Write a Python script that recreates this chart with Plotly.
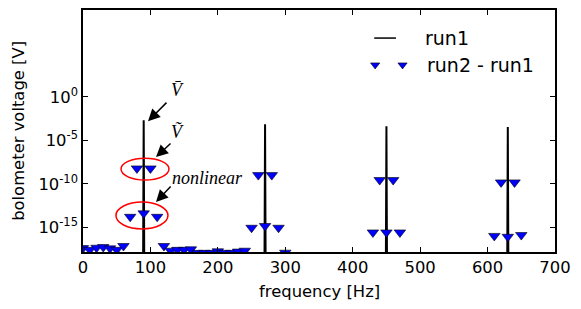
import plotly.graph_objects as go

# ---- data ----
run1_freq = [0, 89, 90, 91, 269, 270, 271, 449, 450, 451, 629, 630, 631, 700]
run1_volt = [1e-22, 1e-22, 2.1e-3, 1e-22, 1e-22, 7.2e-4, 1e-22,
             1e-22, 4.3e-4, 1e-22, 1e-22, 3.5e-4, 1e-22, 1e-22]

diff_freq = list(range(0, 710, 10))
diff_log = [
    -17.40, -17.60, -17.36, -17.28, -17.43, -17.60, -17.16,   # 0-60
    -13.80, -8.23, -13.40, -8.23, -13.80,                     # 70-110
    -17.16, -17.70, -17.60, -17.60, -17.54, -17.95, -17.95,   # 120-180
    -17.95, -17.77, -17.95, -17.95, -17.80, -17.70,           # 190-240
    -15.06, -9.00, -14.86, -9.00, -15.06,                     # 250-290
    -17.93, -19, -19, -19, -19, -19, -19, -19, -19, -19, -19, -19, -19,  # 300-420
    -15.60, -9.57, -15.60, -9.57, -15.60,                     # 430-470
    -19, -19, -19, -19, -19, -19, -19, -19, -19, -19, -19, -19, -19,     # 480-600
    -16.00, -9.84, -16.10, -9.84, -15.90,                     # 610-650
    -19, -19, -19, -19, -19,                                  # 660-700
]
diff_volt = [10 ** v for v in diff_log]

x_ticks = [0, 100, 200, 300, 400, 500, 600, 700]
y_tickvals = [1, 1e-5, 1e-10, 1e-15]
y_ticktext = ["10<sup>0</sup>", "10<sup>-5</sup>", "10<sup>-10</sup>", "10<sup>-15</sup>"]

FONT = "DejaVu Sans"
SERIF = "Liberation Serif"
FS = 16.4

fig = go.Figure()
fig.add_trace(go.Scatter(x=run1_freq, y=run1_volt, mode="lines",
                         line=dict(color="black", width=2), name="run1",
                         showlegend=False))
fig.add_trace(go.Scatter(x=diff_freq, y=diff_volt, mode="markers",
                         marker=dict(symbol="triangle-down", size=10, color="#0000ff",
                                     line=dict(color="black", width=0.6)),
                         name="run2 - run1", showlegend=False))

# custom legend glyphs (matplotlib style: two markers)
fig.add_trace(go.Scatter(x=[0.619, 0.677], y=[0.773, 0.773], mode="markers",
                         xaxis="x2", yaxis="y2", cliponaxis=False,
                         marker=dict(symbol="triangle-down", size=8, color="#0000ff",
                                     line=dict(color="black", width=0.6)),
                         showlegend=False, hoverinfo="skip"))

axis_common = dict(showline=True, linecolor="black", linewidth=1.5, mirror="ticks",
                   ticks="inside", ticklen=5, tickwidth=1, tickcolor="black",
                   showgrid=False, zeroline=False, automargin=False,
                   tickfont=dict(family=FONT, size=FS, color="black"))

fig.update_layout(
    width=581, height=309,
    margin=dict(l=83, r=26, t=10, b=57),
    paper_bgcolor="white", plot_bgcolor="white",
    showlegend=False,
    xaxis=dict(range=[0, 700], tickvals=x_ticks, **axis_common),
    yaxis=dict(type="log", range=[-17.85, 10.0], tickvals=y_tickvals, ticktext=y_ticktext,
               **axis_common),
    xaxis2=dict(overlaying="x", range=[0, 1], visible=False, fixedrange=True),
    yaxis2=dict(overlaying="y", range=[0, 1], visible=False, fixedrange=True),
)

# red ellipses around marker groups
fig.add_shape(type="circle", xref="x", yref="y", x0=56.4, x1=127.5,
              y0=10 ** -9.57, y1=10 ** -7.05, line=dict(color="red", width=1.5))
fig.add_shape(type="circle", xref="x", yref="y", x0=48.9, x1=126.0,
              y0=10 ** -15.2, y1=10 ** -12.1, line=dict(color="red", width=1.5))

# legend line glyph
fig.add_shape(type="line", xref="paper", yref="paper", x0=0.617, x1=0.663,
              y0=0.884, y1=0.884, line=dict(color="black", width=1.5))

ann = []
# arrows
for (hx, hy, ax, ay) in [(96.4, -2.79, 20, -20), (108.3, -6.93, 16, -15), (108.3, -12.1, 16, -17)]:
    ann.append(dict(x=hx, y=hy, xref="x", yref="y", ax=ax, ay=ay, text="",
                    showarrow=True, arrowhead=2, arrowsize=1.6, arrowwidth=1.5,
                    arrowcolor="black"))
# labels
ann.append(dict(x=139.5, y=0.77, xref="x", yref="y", text="<i>V̄</i>", showarrow=False,
                font=dict(family=SERIF, size=18, color="black")))
ann.append(dict(x=139.5, y=-4.06, xref="x", yref="y", text="<i>Ṽ</i>", showarrow=False,
                font=dict(family=SERIF, size=18, color="black")))
ann.append(dict(x=184, y=-9.34, xref="x", yref="y", text="<i>nonlinear</i>", showarrow=False,
                font=dict(family=SERIF, size=18, color="black")))
# legend texts
ann.append(dict(x=0.72, y=0.884, xref="paper", yref="paper", text="run1", showarrow=False,
                xanchor="left", yanchor="middle", font=dict(family=FONT, size=19, color="black")))
ann.append(dict(x=0.725, y=0.773, xref="paper", yref="paper", text="run2 - run1", showarrow=False,
                xanchor="left", yanchor="middle", font=dict(family=FONT, size=19, color="black")))
# axis titles
ann.append(dict(x=0.5, y=-0.165, xref="paper", yref="paper", text="frequency [Hz]", showarrow=False,
                xanchor="center", yanchor="middle", font=dict(family=FONT, size=FS, color="black")))
ann.append(dict(x=-0.138, y=0.5, xref="paper", yref="paper", text="bolometer voltage [V]",
                showarrow=False, textangle=-90, xanchor="center", yanchor="middle",
                font=dict(family=FONT, size=FS, color="black")))
fig.update_layout(annotations=ann)

fig.write_html("out.html", config={"displayModeBar": False},
               post_script="document.body.style.margin='0';")
